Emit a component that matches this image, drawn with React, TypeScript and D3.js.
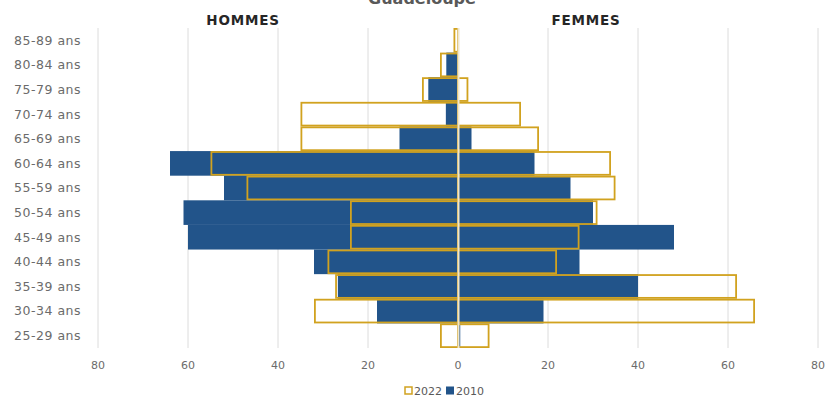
import React from "react";
import * as d3 from "d3";

const categories = ["85-89 ans","80-84 ans","75-79 ans","70-74 ans","65-69 ans","60-64 ans","55-59 ans","50-54 ans","45-49 ans","40-44 ans","35-39 ans","30-34 ans","25-29 ans"];
const hommes2022 = [1, 4, 8, 35, 35, 55, 47, 24, 24, 29, 27.3, 32, 4];
const hommes2010 = [0, 2.6, 6.6, 2.7, 13, 64, 52, 61, 60, 32, 26.7, 18, 0];
const femmes2022 = [0, 0, 2.3, 14, 18, 34, 35, 31, 27, 22, 62, 66, 7];
const femmes2010 = [0, 0, 0, 0, 3, 17, 25, 30, 48, 27, 40, 19, 0.5];
const xTicks = [-80, -60, -40, -20, 0, 20, 40, 60, 80];

const W = 826, H = 399;
const BLUE = "#22548a";
const GOLD = "#d1a21f";

export default function App() {
  const x = d3.scaleLinear().domain([-80, 80]).range([98, 818]);
  const y = d3.scaleBand<string>().domain(categories).range([28, 348]).padding(0);
  const bw = y.bandwidth();
  const sw = 1.8;

  const fills: JSX.Element[] = [];
  const outlines: JSX.Element[] = [];
  categories.forEach((c, i) => {
    const y0 = y(c)!;
    const hm10 = hommes2010[i], fm10 = femmes2010[i];
    if (hm10 > 0) fills.push(<rect key={"h10" + i} x={x(-hm10)} y={y0} width={x(0) - x(-hm10)} height={bw} fill={BLUE} />);
    if (fm10 > 0) fills.push(<rect key={"f10" + i} x={x(0)} y={y0} width={x(fm10) - x(0)} height={bw} fill={BLUE} />);
    const hm22 = hommes2022[i], fm22 = femmes2022[i];
    if (hm22 > 0) outlines.push(<rect key={"h22" + i} x={x(-hm22) + sw / 2} y={y0 + sw / 2} width={Math.max(0, x(0) - x(-hm22) - sw / 2)} height={bw - sw} fill="none" stroke={GOLD} strokeWidth={sw} />);
    if (fm22 > 0) outlines.push(<rect key={"f22" + i} x={x(0)} y={y0 + sw / 2} width={Math.max(0, x(fm22) - x(0) - sw / 2)} height={bw - sw} fill="none" stroke={GOLD} strokeWidth={sw} />);
  });

  return (
    <svg width={W} height={H} style={{ position: "absolute", left: 0, top: 0, background: "#fff" }} fontFamily="DejaVu Sans">
      <text x={422} y={4} textAnchor="middle" fontSize={16} fontWeight="bold" fill="#595959">Guadeloupe</text>
      <text x={243} y={25} textAnchor="middle" fontSize={13.5} fontWeight="bold" fill="#262626" letterSpacing={0.8}>HOMMES</text>
      <text x={586} y={25} textAnchor="middle" fontSize={13.5} fontWeight="bold" fill="#262626" letterSpacing={0.8}>FEMMES</text>
      {xTicks.map(t => (
        <line key={"g" + t} x1={x(t)} x2={x(t)} y1={28} y2={348} stroke="#dcdcdc" strokeWidth={1} />
      ))}
      {fills}
      {outlines}
      <line x1={x(0) + 0.5} x2={x(0) + 0.5} y1={28} y2={348} stroke="#efe6cc" strokeWidth={2} />
      {categories.map(c => (
        <text key={c} x={81} y={y(c)! + bw / 2} dy="0.35em" textAnchor="end" fontSize={12.5} letterSpacing={0.5} fill="#6b6b6b">{c}</text>
      ))}
      {xTicks.map(t => (
        <text key={"t" + t} x={x(t)} y={365} dy="0.35em" textAnchor="middle" fontSize={11} fill="#6b6b6b">{Math.abs(t)}</text>
      ))}
      <g transform="translate(0,391)">
        <rect x={405} y={-4} width={7} height={7} fill="none" stroke={GOLD} strokeWidth={1.5} />
        <text x={414} y={0} dy="0.35em" fontSize={11} fill="#595959">2022</text>
        <rect x={446} y={-4.5} width={8} height={8} fill={BLUE} />
        <text x={456} y={0} dy="0.35em" fontSize={11} fill="#595959">2010</text>
      </g>
    </svg>
  );
}
